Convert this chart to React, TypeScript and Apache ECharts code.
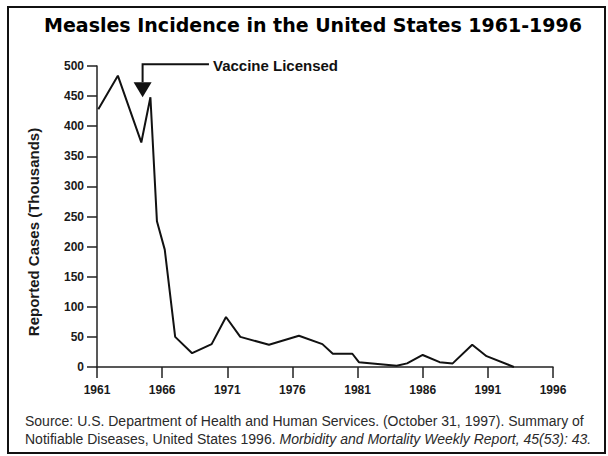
import React, { useEffect, useRef } from "react";
import * as echarts from "echarts";

const titleText = "Measles Incidence in the United States 1961-1996";
const yAxisName = "Reported Cases (Thousands)";
const annotationText = "Vaccine Licensed";
const sourceLine1 = "Source: U.S. Department of Health and Human Services. (October 31, 1997). Summary of";
const sourceLine2a = "Notifiable Diseases, United States 1996. ";
const sourceLine2b = "Morbidity and Mortality Weekly Report, 45(53): 43.";

// Year positions (as drawn) and reported cases (thousands)
const years = [1961.1, 1962.6, 1964.4, 1965.1, 1965.6, 1966.2, 1967.0, 1968.3, 1969.8, 1970.9, 1972.0, 1974.2, 1976.5, 1978.3, 1979.1, 1980.6, 1981.1, 1984.0, 1984.8, 1986.0, 1987.3, 1988.3, 1989.8, 1990.9, 1993.0];
const cases = [428, 484, 373, 448, 242, 195, 50, 23, 38, 83, 50, 37, 52, 38, 22, 22, 8, 2, 6, 20, 8, 6, 37, 18, 0];

const xMin = 1961;
const xMax = 1996;
const xStep = 5;
const yMin = 0;
const yMax = 500;
const yStep = 50;

// annotation anchor (data coordinates)
const vaccineYear = 1964.5;
const arrowTipValue = 448;
const arrowTopValue = 503;
const labelYear = 1969.9;

export default function App() {
  const ref = useRef<HTMLDivElement>(null);
  useEffect(() => {
    document.body.style.margin = "0";
    const chart = echarts.init(ref.current!, null, { renderer: "svg" });
    const axisFont = { fontFamily: "Liberation Sans", fontWeight: "bold" as const, fontSize: 12, color: "#1a1a1a" };
    chart.setOption({
      animation: false,
      backgroundColor: "#ffffff",
      grid: { left: 97, right: 55, top: 66, bottom: 89 },
      xAxis: {
        type: "value",
        min: xMin,
        max: xMax,
        interval: xStep,
        axisLine: { show: true, lineStyle: { color: "#222", width: 1.5 } },
        axisTick: { show: true, length: 11, lineStyle: { color: "#222", width: 1.5 } },
        axisLabel: { ...axisFont, margin: 17, formatter: (v: number) => String(v) },
        splitLine: { show: false },
      },
      yAxis: {
        type: "value",
        min: yMin,
        max: yMax,
        interval: yStep,
        axisLine: { show: true, lineStyle: { color: "#222", width: 1.5 } },
        axisTick: { show: true, length: 10, lineStyle: { color: "#222", width: 1.5 } },
        axisLabel: { ...axisFont, margin: 13 },
        splitLine: { show: false },
      },
      series: [
        {
          type: "line",
          data: years.map((y, i) => [y, cases[i]]),
          symbol: "none",
          showSymbol: false,
          silent: true,
          lineStyle: { color: "#111", width: 2 },
        },
      ],
    });

    const px = (x: number, y: number) => chart.convertToPixel({ gridIndex: 0 }, [x, y]) as number[];
    const tip = px(vaccineYear, arrowTipValue);
    const top = px(vaccineYear, arrowTopValue);
    const lab = px(labelYear, arrowTopValue);
    const headH = 15;
    const headW = 9;

    chart.setOption({
      graphic: [
        {
          type: "rect",
          shape: { x: 8, y: 7, width: 597, height: 446 },
          style: { fill: "none", stroke: "#111", lineWidth: 2 },
          silent: true,
        },
        {
          type: "text",
          x: 313,
          y: 25,
          style: {
            text: titleText,
            font: "bold 19px 'DejaVu Sans'",
            fill: "#000",
            align: "center",
            verticalAlign: "middle",
          },
        },
        {
          type: "text",
          x: 33,
          y: 232,
          rotation: Math.PI / 2,
          style: {
            text: yAxisName,
            font: "bold 15px 'Liberation Sans'",
            fill: "#1a1a1a",
            align: "center",
            verticalAlign: "middle",
          },
        },
        {
          type: "polyline",
          shape: { points: [[lab[0] - 4, top[1]], [top[0], top[1]], [top[0], tip[1] - headH]] },
          style: { stroke: "#111", lineWidth: 2, fill: "none" },
        },
        {
          type: "polygon",
          shape: { points: [[tip[0] - headW, tip[1] - headH], [tip[0] + headW, tip[1] - headH], [tip[0], tip[1]]] },
          style: { fill: "#111" },
        },
        {
          type: "text",
          x: lab[0],
          y: top[1] + 1,
          style: {
            text: annotationText,
            font: "bold 15px 'Liberation Sans'",
            fill: "#111",
            align: "left",
            verticalAlign: "middle",
          },
        },
        {
          type: "text",
          x: 25,
          y: 421,
          style: {
            text: sourceLine1,
            font: "14px 'Liberation Sans'",
            fill: "#2a2a2a",
            align: "left",
            verticalAlign: "middle",
          },
        },
        {
          type: "text",
          x: 25,
          y: 439,
          style: {
            text: "{n|" + sourceLine2a + "}{i|" + sourceLine2b + "}",
            align: "left",
            verticalAlign: "middle",
            rich: {
              n: { font: "14px 'Liberation Sans'", fill: "#2a2a2a" },
              i: { font: "italic 14px 'Liberation Sans'", fill: "#2a2a2a" },
            },
          },
        },
      ],
    });
    return () => chart.dispose();
  }, []);
  return <div ref={ref} style={{ width: 608, height: 456 }} />;
}
